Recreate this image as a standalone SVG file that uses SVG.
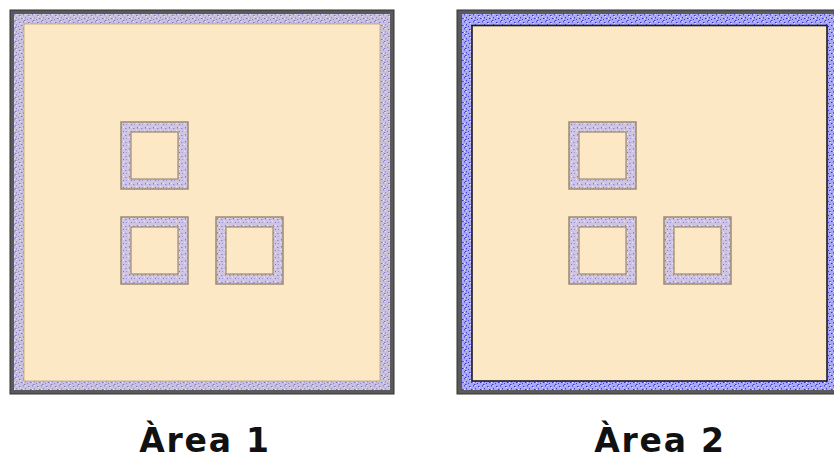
<svg xmlns="http://www.w3.org/2000/svg" width="834" height="460" viewBox="0 0 834 460">
  <style>
    .frame { fill: #5a5a5a; stroke: #333; stroke-width: 1; }
    .peach { fill: #fde8c6; }
    .sq-out { fill: url(#texS); stroke: #9c8a70; stroke-width: 1.5; }
    .sq-in { fill: #fde8c6; stroke: #9c8a70; stroke-width: 1.2; }
    .label { font-family: "DejaVu Sans", "Liberation Sans", sans-serif; font-weight: bold; font-size: 33px; fill: #111; text-anchor: middle; letter-spacing: 1.8px; }
  </style>
  <defs>
    <pattern id="tex1" width="9" height="7" patternUnits="userSpaceOnUse">
      <rect width="9" height="7" fill="#c9c0dc"/>
      <rect x="1" y="1" width="1.5" height="1" fill="#7d76cf"/>
      <rect x="5" y="0" width="1" height="1.5" fill="#8f88d8"/>
      <rect x="3" y="4" width="1.5" height="1" fill="#7a72cc"/>
      <rect x="7" y="3" width="1" height="1.5" fill="#9890dc"/>
      <rect x="0" y="5" width="1" height="1" fill="#8a82d4"/>
      <rect x="6" y="6" width="1.5" height="1" fill="#7d76cf"/>
      <rect x="2" y="2" width="1" height="1" fill="#ede6f2"/>
      <rect x="7" y="0" width="1" height="1" fill="#ece4f0"/>
      <rect x="5" y="4" width="1" height="1" fill="#eee8f4"/>
    </pattern>
    <pattern id="texS" width="8" height="7" patternUnits="userSpaceOnUse">
      <rect width="8" height="7" fill="#cfc4e2"/>
      <rect x="1" y="1" width="1" height="1.5" fill="#7f78d2"/>
      <rect x="5" y="2" width="1.5" height="1" fill="#8c85d8"/>
      <rect x="3" y="5" width="1" height="1" fill="#7a72cc"/>
      <rect x="6" y="5" width="1" height="1" fill="#9890dc"/>
      <rect x="3" y="1" width="1" height="1" fill="#efe8f4"/>
      <rect x="0" y="4" width="1" height="1" fill="#ece6f2"/>
    </pattern>
    <pattern id="tex2" width="9" height="7" patternUnits="userSpaceOnUse">
      <rect width="9" height="7" fill="#a9a8f0"/>
      <rect x="1" y="1" width="1.5" height="1" fill="#3434dc"/>
      <rect x="5" y="0" width="1" height="1.5" fill="#4a4ae4"/>
      <rect x="3" y="4" width="1.5" height="1" fill="#2e2ed8"/>
      <rect x="7" y="3" width="1" height="1.5" fill="#4444e0"/>
      <rect x="0" y="5" width="1" height="1" fill="#3a3ade"/>
      <rect x="6" y="6" width="1.5" height="1" fill="#3434dc"/>
      <rect x="2" y="2" width="1" height="1" fill="#e6e6ff"/>
      <rect x="7" y="0" width="1" height="1" fill="#dedefc"/>
      <rect x="5" y="4" width="1" height="1" fill="#e8e8ff"/>
    </pattern>
  </defs>
  <rect width="834" height="460" fill="#ffffff"/>

  <g id="area1">
    <rect class="frame" x="10" y="10" width="384" height="384"/>
    <rect x="14" y="14" width="376" height="376" fill="url(#tex1)"/>
    <rect class="peach" x="24" y="24" width="356" height="357" stroke="#b8a078" stroke-width="0.8"/>
  </g>
  <g id="area1-sq1">
    <rect class="sq-out" x="121" y="122" width="67" height="67"/>
    <rect class="sq-in" x="131" y="132" width="47" height="47"/>
  </g>
  <g id="area1-sq2">
    <rect class="sq-out" x="121" y="217" width="67" height="67"/>
    <rect class="sq-in" x="131" y="227" width="47" height="47"/>
  </g>
  <g id="area1-sq3">
    <rect class="sq-out" x="216" y="217" width="67" height="67"/>
    <rect class="sq-in" x="226" y="227" width="47" height="47"/>
  </g>
  <g id="label1">
    <text class="label" x="205" y="452">Àrea 1</text>
  </g>

  <g id="area2">
    <rect class="frame" x="457" y="10" width="384" height="384"/>
    <rect x="462" y="14" width="380" height="376" fill="url(#tex2)"/>
    <rect class="peach" x="472" y="25.5" width="355" height="355.5" stroke="#1a1a2a" stroke-width="1.6"/>
  </g>
  <g id="area2-sq1">
    <rect class="sq-out" x="569" y="122" width="67" height="67"/>
    <rect class="sq-in" x="579" y="132" width="47" height="47"/>
  </g>
  <g id="area2-sq2">
    <rect class="sq-out" x="569" y="217" width="67" height="67"/>
    <rect class="sq-in" x="579" y="227" width="47" height="47"/>
  </g>
  <g id="area2-sq3">
    <rect class="sq-out" x="664" y="217" width="67" height="67"/>
    <rect class="sq-in" x="674" y="227" width="47" height="47"/>
  </g>
  <g id="label2">
    <text class="label" x="660" y="452">Àrea 2</text>
  </g>

  <g id="connectors"/>
</svg>
